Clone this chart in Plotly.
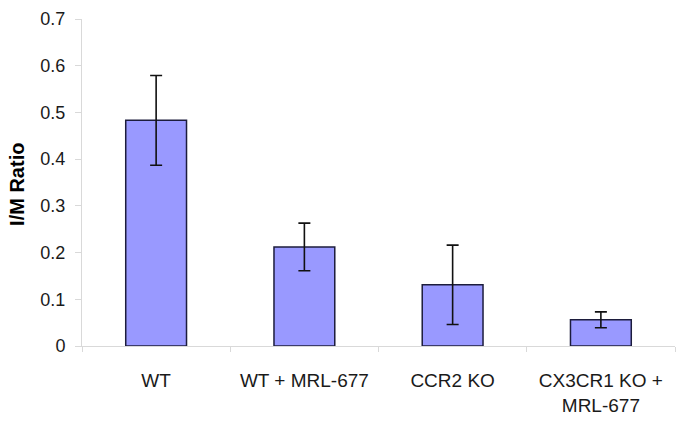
import plotly.graph_objects as go

categories = ["WT", "WT + MRL-677", "CCR2 KO", "CX3CR1 KO +<br>MRL-677"]
ratio_values = [0.483, 0.212, 0.131, 0.056]
ratio_errors = [0.096, 0.051, 0.085, 0.017]
y_ticks = [0, 0.1, 0.2, 0.3, 0.4, 0.5, 0.6, 0.7]
y_tick_labels = ["0", "0.1", "0.2", "0.3", "0.4", "0.5", "0.6", "0.7"]

FONT = "Liberation Sans, Arial, sans-serif"
AXIS_GRAY = "#d9d9d9"

fig = go.Figure(
    go.Bar(
        x=categories,
        y=ratio_values,
        marker=dict(color="#9999ff", line=dict(color="#1c1c3c", width=1.5)),
        error_y=dict(type="data", array=ratio_errors, visible=True,
                     color="#111111", thickness=1.6, width=6),
    )
)

fig.update_layout(
    width=685, height=428,
    margin=dict(l=82, r=10, t=19, b=82),
    paper_bgcolor="white", plot_bgcolor="white",
    bargap=0.59,
    showlegend=False,
    font=dict(family=FONT, size=18, color="#1a1a1a"),
)

fig.update_xaxes(
    type="category",
    showline=True, linecolor=AXIS_GRAY, linewidth=1,
    ticks="outside", tickson="boundaries", ticklen=5, tickcolor=AXIS_GRAY,
    showgrid=False, zeroline=False,
    tickfont=dict(family=FONT, size=19, color="#1a1a1a"),
    ticklabelstandoff=17,
)

fig.update_yaxes(
    range=[0, 0.7],
    tickvals=y_ticks, ticktext=y_tick_labels,
    showline=True, linecolor=AXIS_GRAY, linewidth=1,
    ticks="outside", ticklen=6, tickcolor=AXIS_GRAY,
    showgrid=False, zeroline=False,
    tickfont=dict(family=FONT, size=18, color="#1a1a1a"),
    ticklabelstandoff=6,
)

fig.add_annotation(
    text="<b>I/M Ratio</b>", textangle=-90,
    xref="paper", yref="paper", x=-0.110, y=0.495,
    xanchor="center", yanchor="middle", showarrow=False,
    font=dict(family=FONT, size=20, color="#000000"),
)

fig.write_html("out.html",
               config={"displayModeBar": False, "staticPlot": True},
               post_script="document.body.style.margin='0';window.dispatchEvent(new Event('resize'));")
